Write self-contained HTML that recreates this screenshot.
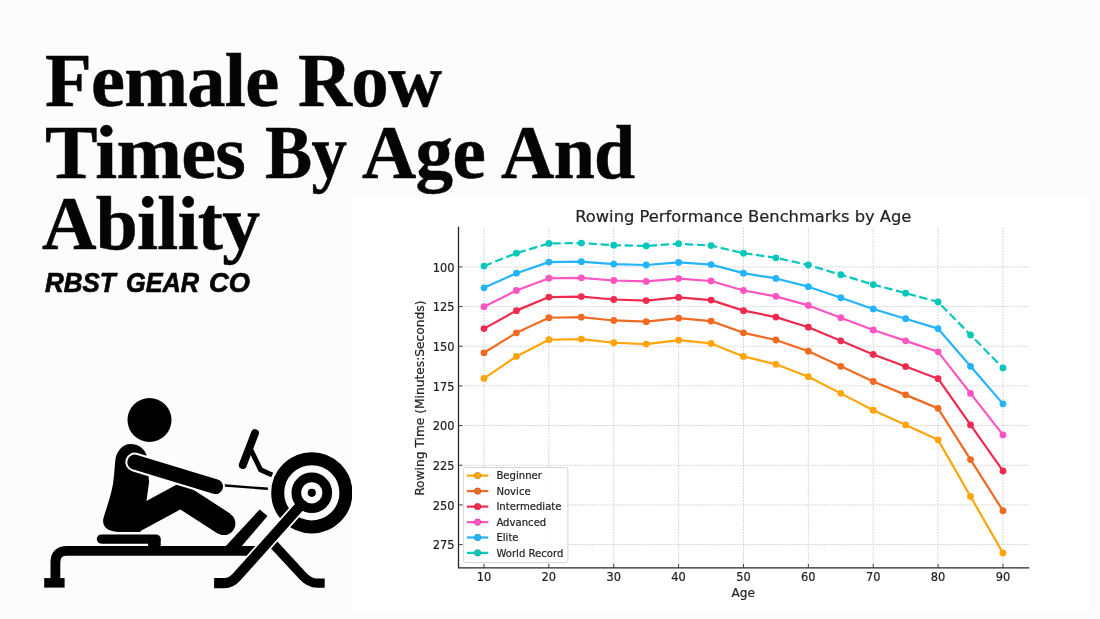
<!DOCTYPE html>
<html lang="en"><head><meta charset="utf-8"><title>Female Row Times By Age And Ability</title>
<style>
html,body{margin:0;padding:0}
body{width:1100px;height:619px;position:relative;overflow:hidden;background:#fcfcfc;}
h1{position:absolute;left:46px;top:0;margin:0;font-family:"Liberation Serif",serif;font-weight:bold;font-size:76px;line-height:71px;letter-spacing:-0.75px;color:#050505;white-space:nowrap;-webkit-text-stroke:0.5px #050505}
h1 span{position:absolute;left:0;display:block;transform-origin:0 0}
h2{position:absolute;left:44.5px;top:266.2px;margin:0;font-family:"Liberation Sans",sans-serif;font-style:italic;font-weight:bold;font-size:26.8px;line-height:34px;color:#050505;white-space:nowrap;-webkit-text-stroke:0.7px #050505}
h2 span{position:absolute;top:0;left:0;display:block;transform-origin:0 0}
</style></head><body>
<h1><span style="top:45.05px;left:-0.81px;transform:scaleX(1.0074)">Female </span><span style="top:45.05px;left:252.12px;transform:scaleX(0.9841)">Row</span><span style="top:116.55px;left:-1.04px;transform:scaleX(1.0356)">Times </span><span style="top:116.55px;left:218.67px;transform:scaleX(0.9302)">By </span><span style="top:116.55px;left:316.31px;transform:scaleX(0.9893)">Age </span><span style="top:116.55px;left:454.53px;transform:scaleX(0.9728)">And</span><span style="top:188.05px;left:-3.59px;transform:scaleX(0.9936)">Ability</span></h1>
<h2><span style="left:0.42px;transform:scaleX(0.9676)">RBST </span><span style="left:81.43px;transform:scaleX(0.9429)">GEAR </span><span style="left:164.99px;transform:scaleX(1.0154)">CO</span></h2>
<svg id="icon" width="312" height="240" viewBox="40 372 312 240" style="position:absolute;left:40px;top:372px">
<!-- flywheel -->
<circle cx="311.8" cy="492.8" r="34.1" fill="none" stroke="#000" stroke-width="13"/>
<!-- rear leg -->
<path d="M270 540.5L302.5 575.7Q309.4 583.2 317 583.2H324.7" fill="none" stroke="#000" stroke-width="9.3"/>
<!-- rail -->
<path d="M258 550.8H67Q55.4 550.8 55.4 562.6V580" fill="none" stroke="#000" stroke-width="9.8"/>
<rect x="44.2" y="578.1" width="20.4" height="9.5" fill="#000"/>
<!-- footrest -->
<path d="M225.9 546L259.7 509.4L267.5 516.1L241.8 546Z" fill="#000"/>
<!-- strut with white outline -->
<path d="M301 504.9L236.5 577.2Q231.2 583.15 224.5 583.15H214.1" fill="none" stroke="#fdfdfd" stroke-width="13.6"/>
<circle cx="311.8" cy="492.8" r="15.45" fill="none" stroke="#000" stroke-width="9.7"/>
<circle cx="311.8" cy="492.8" r="4.1" fill="#000"/>
<path d="M302 503.8L236.5 577.2Q231.2 583.15 224.5 583.15H214.1" fill="none" stroke="#000" stroke-width="10.2"/>
<!-- seat -->
<rect x="96.8" y="534.4" width="63.9" height="9.3" rx="4.65" fill="#000"/>
<path d="M148.1 539H160.7V547H148.1Z" fill="#000"/>
<!-- monitor -->
<path d="M255 433.2L242.8 465" stroke="#000" stroke-width="7.9" stroke-linecap="round" fill="none"/>
<path d="M250.5 449L260.6 469.8L272.2 475" stroke="#000" stroke-width="4.9" fill="none"/>
<!-- cable -->
<path d="M222 485.2L267.9 488.8" stroke="#000" stroke-width="2.4" fill="none"/>
<!-- person -->
<circle cx="149.5" cy="420" r="22" fill="#000"/>
<path d="M130.7 444.1C138 444.1 144.3 448.5 146.6 455.4L149.1 482L146.6 500L140.4 531.9H119C110.5 531.9 102 528.5 103.2 519.3C105 512 110.5 498 112.9 484.4C114.2 476 114.6 468 115.2 461.2C116 451.5 122.5 444.1 130.7 444.1Z" fill="#000"/>
<path d="M134 521.1L180.9 495.8L224 523.6" fill="none" stroke="#000" stroke-width="23.6" stroke-linejoin="miter"/>
<circle cx="224" cy="523.6" r="11.4" fill="#000"/>
<path d="M134.8 462.1L215.5 486.6" stroke="#fdfdfd" stroke-width="19" stroke-linecap="round" fill="none"/>
<path d="M134.8 462.1L215.5 486.6" stroke="#000" stroke-width="15" stroke-linecap="round" fill="none"/>
</svg>

<svg id="chart" width="740" height="418" viewBox="352 196 740 418" style="position:absolute;left:352px;top:196px">
<rect x="352.7" y="196.7" width="737.4" height="414.8" fill="#ffffff"/>
<path d="M484.00 227.4V567.9M548.87 227.4V567.9M613.74 227.4V567.9M678.61 227.4V567.9M743.48 227.4V567.9M808.35 227.4V567.9M873.22 227.4V567.9M938.09 227.4V567.9M1002.96 227.4V567.9M458.50 266.90H1028.60M458.50 306.57H1028.60M458.50 346.24H1028.60M458.50 385.91H1028.60M458.50 425.58H1028.60M458.50 465.25H1028.60M458.50 504.92H1028.60M458.50 544.59H1028.60" stroke="#c8c8c8" stroke-width="0.8" stroke-dasharray="1.7 1.2" fill="none"/>
<path d="M484.00 378.45L516.43 356.40L548.87 339.73L581.31 339.10L613.74 342.75L646.17 344.10L678.61 340.21L711.05 343.46L743.48 356.40L775.91 364.33L808.35 376.71L840.79 393.37L873.22 410.19L905.65 424.95L938.09 439.86L970.53 496.51L1002.96 553.00" stroke="#ffa50a" stroke-width="2.2" fill="none" stroke-linejoin="round"/>
<g fill="#ffa50a"><circle cx="484.00" cy="378.45" r="3.4"/><circle cx="516.43" cy="356.40" r="3.4"/><circle cx="548.87" cy="339.73" r="3.4"/><circle cx="581.31" cy="339.10" r="3.4"/><circle cx="613.74" cy="342.75" r="3.4"/><circle cx="646.17" cy="344.10" r="3.4"/><circle cx="678.61" cy="340.21" r="3.4"/><circle cx="711.05" cy="343.46" r="3.4"/><circle cx="743.48" cy="356.40" r="3.4"/><circle cx="775.91" cy="364.33" r="3.4"/><circle cx="808.35" cy="376.71" r="3.4"/><circle cx="840.79" cy="393.37" r="3.4"/><circle cx="873.22" cy="410.19" r="3.4"/><circle cx="905.65" cy="424.95" r="3.4"/><circle cx="938.09" cy="439.86" r="3.4"/><circle cx="970.53" cy="496.51" r="3.4"/><circle cx="1002.96" cy="553.00" r="3.4"/></g>
<path d="M484.00 352.78L516.43 332.82L548.87 317.74L581.31 317.17L613.74 320.47L646.17 321.69L678.61 318.17L711.05 321.12L743.48 332.82L775.91 340.00L808.35 351.20L840.79 366.28L873.22 381.50L905.65 394.86L938.09 408.36L970.53 459.62L1002.96 510.75" stroke="#f06a22" stroke-width="2.2" fill="none" stroke-linejoin="round"/>
<g fill="#f06a22"><circle cx="484.00" cy="352.78" r="3.4"/><circle cx="516.43" cy="332.82" r="3.4"/><circle cx="548.87" cy="317.74" r="3.4"/><circle cx="581.31" cy="317.17" r="3.4"/><circle cx="613.74" cy="320.47" r="3.4"/><circle cx="646.17" cy="321.69" r="3.4"/><circle cx="678.61" cy="318.17" r="3.4"/><circle cx="711.05" cy="321.12" r="3.4"/><circle cx="743.48" cy="332.82" r="3.4"/><circle cx="775.91" cy="340.00" r="3.4"/><circle cx="808.35" cy="351.20" r="3.4"/><circle cx="840.79" cy="366.28" r="3.4"/><circle cx="873.22" cy="381.50" r="3.4"/><circle cx="905.65" cy="394.86" r="3.4"/><circle cx="938.09" cy="408.36" r="3.4"/><circle cx="970.53" cy="459.62" r="3.4"/><circle cx="1002.96" cy="510.75" r="3.4"/></g>
<path d="M484.00 328.62L516.43 310.63L548.87 297.04L581.31 296.53L613.74 299.50L646.17 300.60L678.61 297.43L711.05 300.08L743.48 310.63L775.91 317.10L808.35 327.20L840.79 340.79L873.22 354.51L905.65 366.54L938.09 378.71L970.53 424.91L1002.96 470.98" stroke="#ee2a4f" stroke-width="2.2" fill="none" stroke-linejoin="round"/>
<g fill="#ee2a4f"><circle cx="484.00" cy="328.62" r="3.4"/><circle cx="516.43" cy="310.63" r="3.4"/><circle cx="548.87" cy="297.04" r="3.4"/><circle cx="581.31" cy="296.53" r="3.4"/><circle cx="613.74" cy="299.50" r="3.4"/><circle cx="646.17" cy="300.60" r="3.4"/><circle cx="678.61" cy="297.43" r="3.4"/><circle cx="711.05" cy="300.08" r="3.4"/><circle cx="743.48" cy="310.63" r="3.4"/><circle cx="775.91" cy="317.10" r="3.4"/><circle cx="808.35" cy="327.20" r="3.4"/><circle cx="840.79" cy="340.79" r="3.4"/><circle cx="873.22" cy="354.51" r="3.4"/><circle cx="905.65" cy="366.54" r="3.4"/><circle cx="938.09" cy="378.71" r="3.4"/><circle cx="970.53" cy="424.91" r="3.4"/><circle cx="1002.96" cy="470.98" r="3.4"/></g>
<path d="M484.00 306.71L516.43 290.50L548.87 278.27L581.31 277.80L613.74 280.48L646.17 281.47L678.61 278.62L711.05 281.01L743.48 290.50L775.91 296.33L808.35 305.42L840.79 317.66L873.22 330.02L905.65 340.85L938.09 351.81L970.53 393.42L1002.96 434.91" stroke="#ff55c0" stroke-width="2.2" fill="none" stroke-linejoin="round"/>
<g fill="#ff55c0"><circle cx="484.00" cy="306.71" r="3.4"/><circle cx="516.43" cy="290.50" r="3.4"/><circle cx="548.87" cy="278.27" r="3.4"/><circle cx="581.31" cy="277.80" r="3.4"/><circle cx="613.74" cy="280.48" r="3.4"/><circle cx="646.17" cy="281.47" r="3.4"/><circle cx="678.61" cy="278.62" r="3.4"/><circle cx="711.05" cy="281.01" r="3.4"/><circle cx="743.48" cy="290.50" r="3.4"/><circle cx="775.91" cy="296.33" r="3.4"/><circle cx="808.35" cy="305.42" r="3.4"/><circle cx="840.79" cy="317.66" r="3.4"/><circle cx="873.22" cy="330.02" r="3.4"/><circle cx="905.65" cy="340.85" r="3.4"/><circle cx="938.09" cy="351.81" r="3.4"/><circle cx="970.53" cy="393.42" r="3.4"/><circle cx="1002.96" cy="434.91" r="3.4"/></g>
<path d="M484.00 287.84L516.43 273.18L548.87 262.11L581.31 261.69L613.74 264.11L646.17 265.01L678.61 262.42L711.05 264.59L743.48 273.18L775.91 278.46L808.35 286.68L840.79 297.76L873.22 308.94L905.65 318.75L938.09 328.66L970.53 366.32L1002.96 403.87" stroke="#24b4fb" stroke-width="2.2" fill="none" stroke-linejoin="round"/>
<g fill="#24b4fb"><circle cx="484.00" cy="287.84" r="3.4"/><circle cx="516.43" cy="273.18" r="3.4"/><circle cx="548.87" cy="262.11" r="3.4"/><circle cx="581.31" cy="261.69" r="3.4"/><circle cx="613.74" cy="264.11" r="3.4"/><circle cx="646.17" cy="265.01" r="3.4"/><circle cx="678.61" cy="262.42" r="3.4"/><circle cx="711.05" cy="264.59" r="3.4"/><circle cx="743.48" cy="273.18" r="3.4"/><circle cx="775.91" cy="278.46" r="3.4"/><circle cx="808.35" cy="286.68" r="3.4"/><circle cx="840.79" cy="297.76" r="3.4"/><circle cx="873.22" cy="308.94" r="3.4"/><circle cx="905.65" cy="318.75" r="3.4"/><circle cx="938.09" cy="328.66" r="3.4"/><circle cx="970.53" cy="366.32" r="3.4"/><circle cx="1002.96" cy="403.87" r="3.4"/></g>
<path d="M484.00 266.04L516.43 253.15L548.87 243.42L581.31 243.05L613.74 245.18L646.17 245.97L678.61 243.70L711.05 245.60L743.48 253.15L775.91 257.79L808.35 265.02L840.79 274.75L873.22 284.57L905.65 293.19L938.09 301.90L970.53 334.98L1002.96 367.97" stroke="#06c7ba" stroke-width="2.2" fill="none" stroke-linejoin="round" stroke-dasharray="8.4 3.65"/>
<g fill="#06c7ba"><circle cx="484.00" cy="266.04" r="3.4"/><circle cx="516.43" cy="253.15" r="3.4"/><circle cx="548.87" cy="243.42" r="3.4"/><circle cx="581.31" cy="243.05" r="3.4"/><circle cx="613.74" cy="245.18" r="3.4"/><circle cx="646.17" cy="245.97" r="3.4"/><circle cx="678.61" cy="243.70" r="3.4"/><circle cx="711.05" cy="245.60" r="3.4"/><circle cx="743.48" cy="253.15" r="3.4"/><circle cx="775.91" cy="257.79" r="3.4"/><circle cx="808.35" cy="265.02" r="3.4"/><circle cx="840.79" cy="274.75" r="3.4"/><circle cx="873.22" cy="284.57" r="3.4"/><circle cx="905.65" cy="293.19" r="3.4"/><circle cx="938.09" cy="301.90" r="3.4"/><circle cx="970.53" cy="334.98" r="3.4"/><circle cx="1002.96" cy="367.97" r="3.4"/></g>
<path d="M458.50 227.4V567.9H1028.60" stroke="#262626" stroke-width="1.3" fill="none" stroke-linecap="square"/>
<path d="M484.00 567.9v-4M548.87 567.9v-4M613.74 567.9v-4M678.61 567.9v-4M743.48 567.9v-4M808.35 567.9v-4M873.22 567.9v-4M938.09 567.9v-4M1002.96 567.9v-4M458.50 266.90h4M458.50 306.57h4M458.50 346.24h4M458.50 385.91h4M458.50 425.58h4M458.50 465.25h4M458.50 504.92h4M458.50 544.59h4" stroke="#333" stroke-width="0.9" fill="none"/>
<g font-family="'DejaVu Sans','Liberation Sans',sans-serif" fill="#222" stroke="#222" stroke-width="0.2">
<g font-size="11.4" text-anchor="middle"><text x="484.00" y="580.8">10</text><text x="548.87" y="580.8">20</text><text x="613.74" y="580.8">30</text><text x="678.61" y="580.8">40</text><text x="743.48" y="580.8">50</text><text x="808.35" y="580.8">60</text><text x="873.22" y="580.8">70</text><text x="938.09" y="580.8">80</text><text x="1002.96" y="580.8">90</text></g>
<g font-size="11.4" text-anchor="end"><text x="454.4" y="271.75">100</text><text x="454.4" y="311.42">125</text><text x="454.4" y="351.09">150</text><text x="454.4" y="390.76">175</text><text x="454.4" y="430.43">200</text><text x="454.4" y="470.10">225</text><text x="454.4" y="509.77">250</text><text x="454.4" y="549.44">275</text></g>
<text x="743.3" y="597" font-size="12.1" text-anchor="middle">Age</text>
<text transform="translate(424.3 398.2) rotate(-90)" font-size="12.24" text-anchor="middle">Rowing Time (Minutes:Seconds)</text>
<text x="743.3" y="221.9" font-size="16.32" text-anchor="middle">Rowing Performance Benchmarks by Age</text>
<rect x="463.4" y="467.5" width="104.5" height="95.1" rx="2.2" fill="#ffffff" fill-opacity="0.8" stroke="#d0d0d0" stroke-width="0.9"/>
<path d="M466.9 475.6H488.3" stroke="#ffa50a" stroke-width="2.2"/><circle cx="477.6" cy="475.6" r="3.4" fill="#ffa50a"/>
<text x="496.4" y="479.3" font-size="10.1">Beginner</text>
<path d="M466.9 491.1H488.3" stroke="#f06a22" stroke-width="2.2"/><circle cx="477.6" cy="491.1" r="3.4" fill="#f06a22"/>
<text x="496.4" y="494.8" font-size="10.1">Novice</text>
<path d="M466.9 506.6H488.3" stroke="#ee2a4f" stroke-width="2.2"/><circle cx="477.6" cy="506.6" r="3.4" fill="#ee2a4f"/>
<text x="496.4" y="510.3" font-size="10.1">Intermediate</text>
<path d="M466.9 522.1H488.3" stroke="#ff55c0" stroke-width="2.2"/><circle cx="477.6" cy="522.1" r="3.4" fill="#ff55c0"/>
<text x="496.4" y="525.8" font-size="10.1">Advanced</text>
<path d="M466.9 537.5H488.3" stroke="#24b4fb" stroke-width="2.2"/><circle cx="477.6" cy="537.5" r="3.4" fill="#24b4fb"/>
<text x="496.4" y="541.2" font-size="10.1">Elite</text>
<path d="M466.9 552.8H488.3" stroke="#06c7ba" stroke-width="2.2" stroke-dasharray="7 3.6 10.8 5"/><circle cx="477.6" cy="552.8" r="3.4" fill="#06c7ba"/>
<text x="496.4" y="556.5" font-size="10.1">World Record</text>
</g></svg>
</body></html>
